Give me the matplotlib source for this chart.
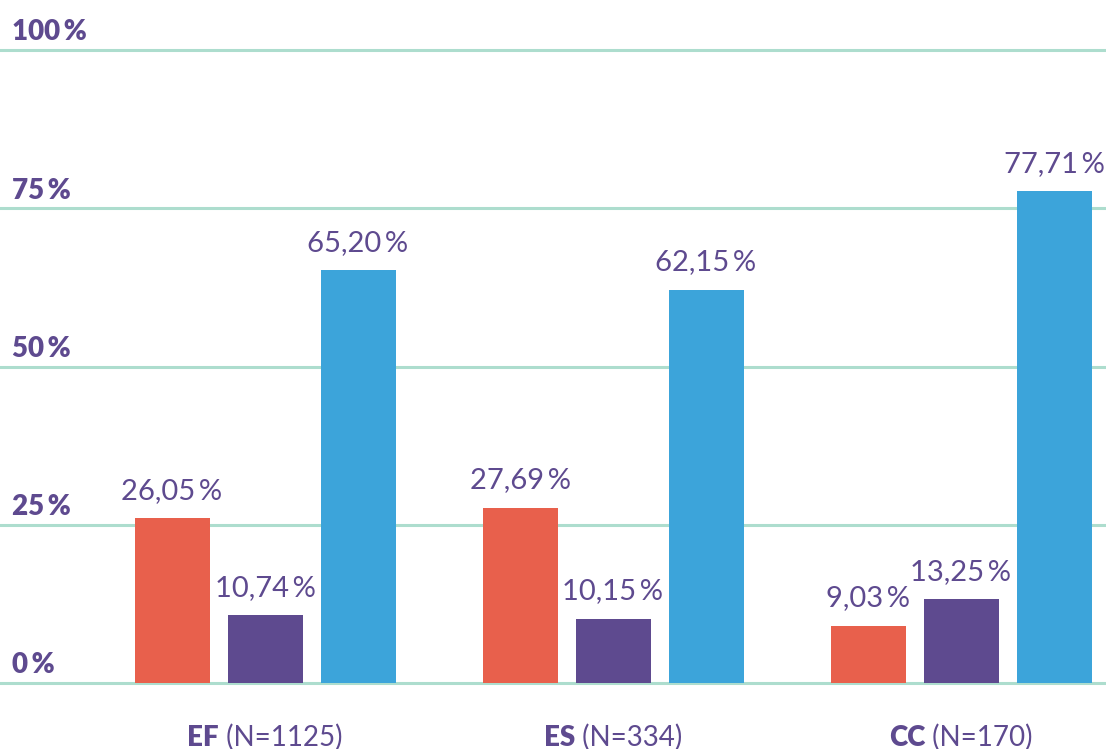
import matplotlib.pyplot as plt
import numpy as np

# data
groups = ["EF", "ES", "CC"]
group_n = ["(N=1125)", "(N=334)", "(N=170)"]
red_vals = [26.05, 27.69, 9.03]
purple_vals = [10.74, 10.15, 13.25]
blue_vals = [65.20, 62.15, 77.71]
y_ticks = [0, 25, 50, 75, 100]

RED = "#E8604C"
PURPLE = "#5E4A8F"
BLUE = "#3CA4DA"
GRID = "#ADDDCE"
FONT = ["Lato", "DejaVu Sans"]

W, H = 1106, 749
fig = plt.figure(figsize=(W / 100, H / 100), dpi=100)
# axes placed so 0% sits at y=683px and 100% at y=50px
bottom = (H - 683) / H
top = (H - 50) / H
ax = fig.add_axes([0, bottom, 1, top - bottom])

x = np.arange(len(groups))
step = 348.0  # pixels between group centres
ax.set_xlim(-265 / step, (W - 265) / step)
ax.set_ylim(0, 100)
width = 75 / step
off = 93 / step

series = [(red_vals, RED, -off), (purple_vals, PURPLE, 0), (blue_vals, BLUE, off)]
for vals, col, dx in series:
    bars = ax.bar(x + dx, vals, width=width, color=col, zorder=3)
    for b, v in zip(bars, vals):
        txt = f"{v:.2f}".replace(".", ",") + "\u2009%"
        ax.annotate(txt, xy=(b.get_x() + b.get_width() / 2, v),
                    xytext=(0, 14), textcoords="offset points",
                    ha="center", va="baseline", fontsize=21,
                    color=PURPLE, family=FONT, zorder=4)

# horizontal guide lines and y labels
for t in y_ticks:
    ax.axhline(t, color=GRID, lw=2.2, zorder=1, clip_on=False)
    ax.annotate(f"{t}\u2009%", xy=(0, t), xycoords=("axes fraction", "data"),
                xytext=(9, 7), textcoords="offset points",
                ha="left", va="baseline", fontsize=20, fontweight="heavy",
                color=PURPLE, family=FONT)

ax.set_axis_off()

# category labels: bold code + regular N
pairs = []
for i, (g, n) in enumerate(zip(groups, group_n)):
    t1 = ax.annotate(g, xy=(i, 0), xycoords=("data", "axes fraction"),
                     xytext=(0, -45), textcoords="offset points",
                     ha="left", va="baseline", fontsize=20, fontweight="heavy",
                     color=PURPLE, family=FONT)
    t2 = ax.annotate(" " + n, xy=(1, 0), xycoords=t1,
                     ha="left", va="bottom", fontsize=20,
                     color=PURPLE, family=FONT)
    pairs.append((t1, t2))

fig.canvas.draw()
r = fig.canvas.get_renderer()
for t1, t2 in pairs:
    w = t1.get_window_extent(r).width + t2.get_window_extent(r).width
    t1.xyann = (-w / 2 * 72 / 100, -45)

fig.savefig("out.png", dpi=100)
